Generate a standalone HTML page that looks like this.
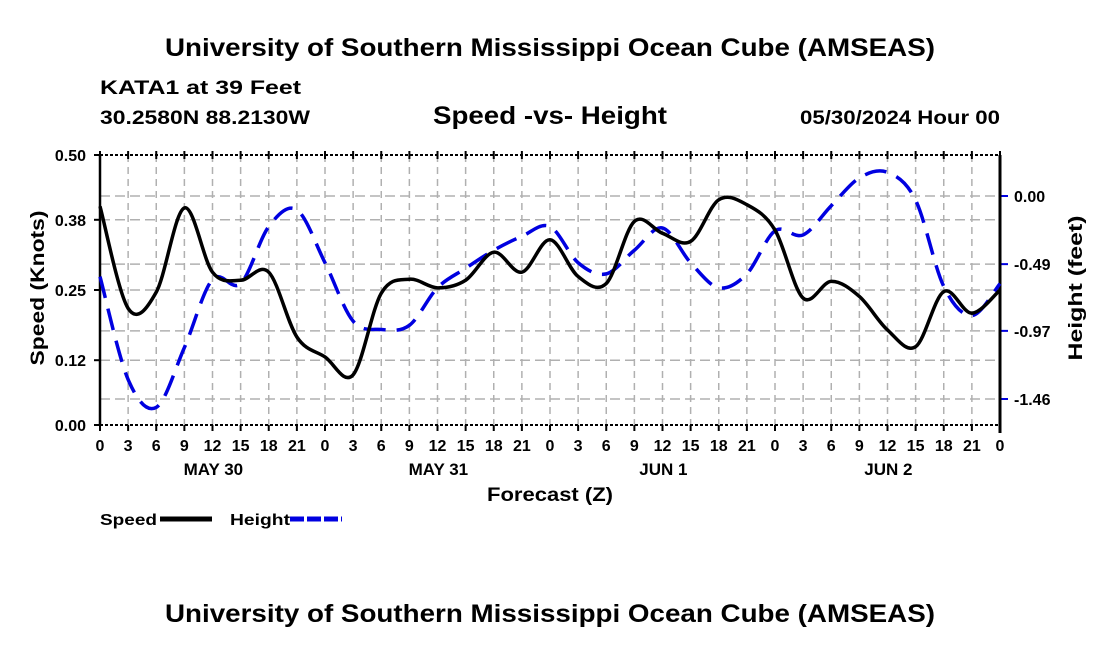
<!DOCTYPE html>
<html><head><meta charset="utf-8"><style>
body{margin:0;background:#fff}
svg text{font-family:"Liberation Sans",sans-serif;font-weight:bold;fill:#000}
</style></head><body>
<svg width="1100" height="650">
<text x="165" y="56" font-size="25" textLength="770" lengthAdjust="spacingAndGlyphs">University of Southern Mississippi Ocean Cube (AMSEAS)</text>
<text x="100" y="94" font-size="19" textLength="201" lengthAdjust="spacingAndGlyphs">KATA1 at 39 Feet</text>
<text x="100" y="124" font-size="19" textLength="210" lengthAdjust="spacingAndGlyphs">30.2580N  88.2130W</text>
<text x="433" y="124" font-size="25" textLength="234" lengthAdjust="spacingAndGlyphs">Speed -vs- Height</text>
<text x="800" y="124" font-size="19" textLength="200" lengthAdjust="spacingAndGlyphs">05/30/2024 Hour 00</text>
<g id="grid"></g>
<g id="axes"></g>
<path id="heightLine" fill="none" stroke="#0000e0" stroke-width="3.5" stroke-dasharray="22,11"/>
<path id="speedLine" fill="none" stroke="#000" stroke-width="3.5"/>
<text x="487" y="501" font-size="19" textLength="126" lengthAdjust="spacingAndGlyphs">Forecast (Z)</text>
<text transform="translate(44,288) rotate(-90)" font-size="19" text-anchor="middle" textLength="155" lengthAdjust="spacingAndGlyphs">Speed (Knots)</text>
<text transform="translate(1082,288) rotate(-90)" font-size="19" text-anchor="middle" textLength="145" lengthAdjust="spacingAndGlyphs">Height (feet)</text>
<g>
<text x="100" y="525" font-size="16" textLength="57" lengthAdjust="spacingAndGlyphs">Speed</text>
<line x1="160" y1="519" x2="212" y2="519" stroke="#000" stroke-width="5"/>
<text x="230" y="525" font-size="16" textLength="60" lengthAdjust="spacingAndGlyphs">Height</text>
<line x1="290" y1="519" x2="342" y2="519" stroke="#0000e0" stroke-width="5" stroke-dasharray="14,3"/>
</g>
<text x="165" y="622" font-size="25" textLength="770" lengthAdjust="spacingAndGlyphs">University of Southern Mississippi Ocean Cube (AMSEAS)</text>
</svg>
<script>
const hours=[0,3,6,9,12,15,18,21,24,27,30,33,36,39,42,45,48,51,54,57,60,63,66,69,72,75,78,81,84,87,90,93,96];
const speed=[0.405,0.216,0.246,0.402,0.283,0.268,0.283,0.163,0.126,0.093,0.244,0.270,0.254,0.268,0.320,0.283,0.343,0.275,0.262,0.377,0.355,0.340,0.417,0.408,0.361,0.235,0.266,0.238,0.176,0.145,0.247,0.207,0.250];
const height=[-0.58,-1.32,-1.52,-1.09,-0.60,-0.63,-0.22,-0.10,-0.48,-0.90,-0.96,-0.93,-0.66,-0.52,-0.39,-0.29,-0.22,-0.48,-0.56,-0.39,-0.23,-0.48,-0.66,-0.56,-0.25,-0.28,-0.07,0.13,0.17,-0.03,-0.65,-0.86,-0.63];
const speedTicks=[0,0.12,0.25,0.38,0.5];
const speedTickLabels=["0.00","0.12","0.25","0.38","0.50"];
const heightTicks=[0,-0.49,-0.97,-1.46];
const heightTickLabels=["0.00","-0.49","-0.97","-1.46"];
const hourLabels=["0","3","6","9","12","15","18","21"];
const dayLabels=["MAY 30","MAY 31","JUN 1","JUN 2"];
const X0=100,X1=1000,Y0=425,Y1=155;
const xs=h=>X0+(X1-X0)*h/96;
const ys=v=>Y0-(Y0-Y1)*v/0.5;
const yh=h=>196-h*(203/1.46);
const NS="http://www.w3.org/2000/svg";
function mk(tag,at,parent){const e=document.createElementNS(NS,tag);for(const k in at)e.setAttribute(k,at[k]);parent.appendChild(e);return e;}
const grid=document.getElementById('grid'),axes=document.getElementById('axes');
for(let h=3;h<96;h+=3){const l=mk('line',{x1:xs(h),x2:xs(h),y1:Y1,y2:Y0,stroke:'#b0b0b0','stroke-width':1.5,'stroke-dasharray':'7,5'},grid);

}
speedTicks.forEach((v,i)=>{if(v>0&&v<0.5){const l=mk('line',{x1:X0,x2:X1,y1:ys(v),y2:ys(v),stroke:'#b0b0b0','stroke-width':1.5,'stroke-dasharray':'10,5'},grid);

}
const t=mk('text',{x:X0-14,y:ys(v)+6,'font-size':16,'text-anchor':'end'},axes);t.textContent=speedTickLabels[i];


mk('line',{x1:X0-6,x2:X0,y1:ys(v),y2:ys(v),stroke:'#000','stroke-width':2},axes);});
heightTicks.forEach((v,i)=>{const l=mk('line',{x1:X0,x2:X1,y1:yh(v),y2:yh(v),stroke:'#b0b0b0','stroke-width':1.5,'stroke-dasharray':'10,5'},grid);


mk('line',{x1:X1,x2:X1+8,y1:yh(v),y2:yh(v),stroke:'#0000e0','stroke-width':2},axes);
const t=mk('text',{x:X1+14,y:yh(v)+6,'font-size':16},axes);t.textContent=heightTickLabels[i];

});
mk('line',{x1:X0,x2:X1,y1:Y1,y2:Y1,stroke:'#000','stroke-width':2,'stroke-dasharray':'3,2'},axes);
mk('line',{x1:X0,x2:X1,y1:Y0,y2:Y0,stroke:'#000','stroke-width':2,'stroke-dasharray':'3,2'},axes);
mk('line',{x1:X0,x2:X0,y1:Y1,y2:Y0,stroke:'#000','stroke-width':2.5},axes);
mk('line',{x1:X1,x2:X1,y1:Y1,y2:Y0+8,stroke:'#000','stroke-width':3},axes);
for(let h=0;h<=96;h+=3){mk('line',{x1:xs(h),x2:xs(h),y1:Y0,y2:Y0+6,stroke:'#000','stroke-width':2},axes);
mk('line',{x1:xs(h),x2:xs(h),y1:Y1-4,y2:Y1+4,stroke:'#000','stroke-width':2},axes);
const t=mk('text',{x:xs(h),y:451,'font-size':16,'text-anchor':'middle'},axes);t.textContent=hourLabels[(h/3)%8];

}
dayLabels.forEach((d,i)=>{const t=mk('text',{x:xs(9+24*i)+29,y:475,'font-size':17,'text-anchor':'middle'},axes);t.textContent=d;

});
function smooth(pts){let d=`M${pts[0][0]},${pts[0][1]}`;for(let i=0;i<pts.length-1;i++){const p0=pts[i-1]||pts[i],p1=pts[i],p2=pts[i+1],p3=pts[i+2]||p2;
d+=` C${p1[0]+(p2[0]-p0[0])/6},${p1[1]+(p2[1]-p0[1])/6} ${p2[0]-(p3[0]-p1[0])/6},${p2[1]-(p3[1]-p1[1])/6} ${p2[0]},${p2[1]}`;}return d;}
document.getElementById('speedLine').setAttribute('d',smooth(hours.map((h,i)=>[xs(h),ys(speed[i])])));
document.getElementById('heightLine').setAttribute('d',smooth(hours.map((h,i)=>[xs(h),yh(height[i])])));
</script>
</body></html>
